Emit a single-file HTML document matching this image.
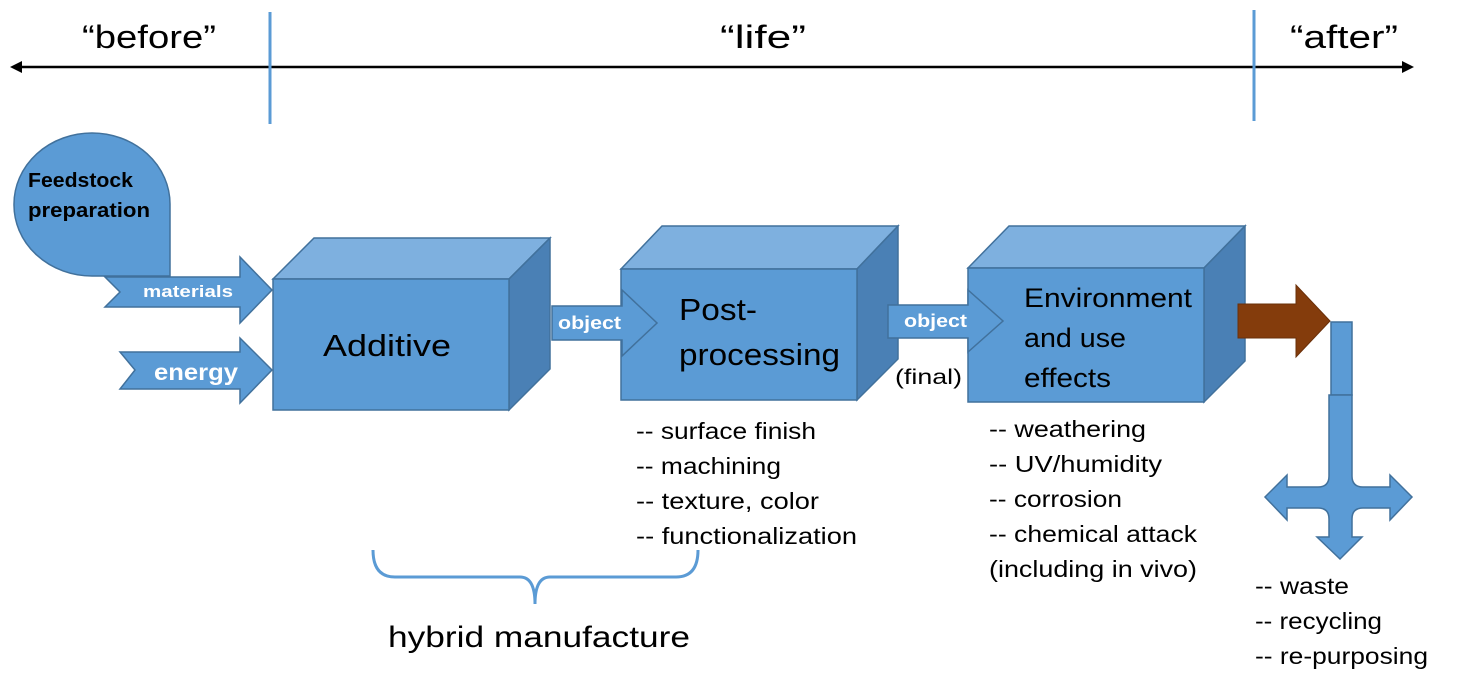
<!DOCTYPE html>
<html><head><meta charset="utf-8"><style>
html,body{margin:0;padding:0;background:#fff}
svg{display:block}
text{font-family:"Liberation Sans",sans-serif}
</style></head><body>
<svg width="1469" height="691" viewBox="0 0 1469 691" xmlns="http://www.w3.org/2000/svg">
<line x1="18" y1="67" x2="1406" y2="67" stroke="#000" stroke-width="2.5"/>
<polygon points="10,67 22,61 22,73" fill="#000"/>
<polygon points="1414,67 1402,61 1402,73" fill="#000"/>
<line x1="270" y1="12" x2="270" y2="124" stroke="#5b9bd5" stroke-width="3"/>
<line x1="1254" y1="10" x2="1254" y2="121" stroke="#5b9bd5" stroke-width="3"/>
<g lengthAdjust="spacingAndGlyphs">
<text x="82" y="48" font-size="32" textLength="134" lengthAdjust="spacingAndGlyphs">“before”</text>
<text x="720" y="48" font-size="32" textLength="86" lengthAdjust="spacingAndGlyphs">“life”</text>
<text x="1290" y="48" font-size="32" textLength="108" lengthAdjust="spacingAndGlyphs">“after”</text>
</g>

<g stroke="#41719c" stroke-width="1.5">
<path d="M92,133 A78,71 0 0 1 170,204 L170,276 L92,276 A78,71 0 0 1 14,204 A78,71 0 0 1 92,133 Z" fill="#5b9bd5"/>
<polygon points="105,277 240,277 240,257 272,290 240,323 240,307 105,307 120,292" fill="#5b9bd5"/>
<polygon points="120,352 240,352 240,338 272,370 240,403 240,389 120,389 135,370" fill="#5b9bd5"/>
<polygon points="273,279 314,238 550,238 509,279" fill="#7eb0df"/>
<polygon points="509,279 550,238 550,369 509,410" fill="#4a80b5"/>
<rect x="273" y="279" width="236" height="131" fill="#5b9bd5"/>
<polygon points="621,269 662,226 898,226 857,269" fill="#7eb0df"/>
<polygon points="857,269 898,226 898,359 857,400" fill="#4a80b5"/>
<rect x="621" y="269" width="236" height="131" fill="#5b9bd5"/>
<polygon points="552,306 622,306 622,290 657,323 622,356 622,340 552,340" fill="#5b9bd5"/>
<polygon points="968,268 1009,226 1245,226 1204,268" fill="#7eb0df"/>
<polygon points="1204,268 1245,226 1245,361 1204,402" fill="#4a80b5"/>
<rect x="968" y="268" width="236" height="134" fill="#5b9bd5"/>
<polygon points="888,305 968,305 968,290 1003,321 968,352 968,338 888,338" fill="#5b9bd5"/>
<rect x="1331" y="322" width="21" height="73" fill="#5b9bd5"/>
<path d="M1287,487 L1318,487 Q1329,487 1329,476 L1329,395 L1352,395 L1352,476 Q1352,487 1363,487 L1390,487 L1390,475 L1412,497 L1390,520 L1390,508 L1363,508 Q1352,508 1352,519 L1352,537 L1362,537 L1340,559 L1317,537 L1329,537 L1329,519 Q1329,508 1318,508 L1287,508 L1287,520 L1265,497 L1287,475 Z" fill="#5b9bd5"/>
</g>
<polygon points="1238,304 1296,304 1296,285 1330,321 1296,357 1296,338 1238,338" fill="#843c0c" stroke="#6a300a" stroke-width="1"/>

<text x="28" y="187" font-size="20" font-weight="bold" textLength="105" lengthAdjust="spacingAndGlyphs">Feedstock</text>
<text x="28" y="217" font-size="20" font-weight="bold" textLength="122" lengthAdjust="spacingAndGlyphs">preparation</text>
<text x="143" y="297" font-size="17" font-weight="bold" fill="#fff" textLength="90" lengthAdjust="spacingAndGlyphs">materials</text>
<text x="154" y="380" font-size="23" font-weight="bold" fill="#fff" textLength="84" lengthAdjust="spacingAndGlyphs">energy</text>
<text x="323" y="356" font-size="31" textLength="128" lengthAdjust="spacingAndGlyphs">Additive</text>
<text x="558" y="329" font-size="18" font-weight="bold" fill="#fff" textLength="63" lengthAdjust="spacingAndGlyphs">object</text>
<text x="679" y="320" font-size="31" textLength="78" lengthAdjust="spacingAndGlyphs">Post-</text>
<text x="679" y="365" font-size="31" textLength="161" lengthAdjust="spacingAndGlyphs">processing</text>
<text x="904" y="327" font-size="18" font-weight="bold" fill="#fff" textLength="63" lengthAdjust="spacingAndGlyphs">object</text>
<text x="895" y="384" font-size="21" textLength="67" lengthAdjust="spacingAndGlyphs">(final)</text>
<text x="1024" y="307" font-size="27" textLength="168" lengthAdjust="spacingAndGlyphs">Environment</text>
<text x="1024" y="347" font-size="27" textLength="102" lengthAdjust="spacingAndGlyphs">and use</text>
<text x="1024" y="387" font-size="27" textLength="87" lengthAdjust="spacingAndGlyphs">effects</text>

<g font-size="23">
<text x="636" y="439" textLength="180" lengthAdjust="spacingAndGlyphs">-- surface finish</text>
<text x="636" y="474" textLength="145" lengthAdjust="spacingAndGlyphs">-- machining</text>
<text x="636" y="509" textLength="183" lengthAdjust="spacingAndGlyphs">-- texture, color</text>
<text x="636" y="544" textLength="221" lengthAdjust="spacingAndGlyphs">-- functionalization</text>
<text x="989" y="437" textLength="157" lengthAdjust="spacingAndGlyphs">-- weathering</text>
<text x="989" y="472" textLength="173" lengthAdjust="spacingAndGlyphs">-- UV/humidity</text>
<text x="989" y="507" textLength="133" lengthAdjust="spacingAndGlyphs">-- corrosion</text>
<text x="989" y="542" textLength="208" lengthAdjust="spacingAndGlyphs">-- chemical attack</text>
<text x="989" y="577" textLength="208" lengthAdjust="spacingAndGlyphs">(including in vivo)</text>
<text x="1255" y="594" textLength="94" lengthAdjust="spacingAndGlyphs">-- waste</text>
<text x="1255" y="629" textLength="127" lengthAdjust="spacingAndGlyphs">-- recycling</text>
<text x="1255" y="664" textLength="173" lengthAdjust="spacingAndGlyphs">-- re-purposing</text>
</g>
<path d="M373,550 Q373,577 395,577 L520,577 Q535,577 535,604 Q535,577 550,577 L676,577 Q698,577 698,550" fill="none" stroke="#5b9bd5" stroke-width="3"/>
<text x="388" y="647" font-size="30" textLength="302" lengthAdjust="spacingAndGlyphs">hybrid manufacture</text>
</svg>
</body></html>
